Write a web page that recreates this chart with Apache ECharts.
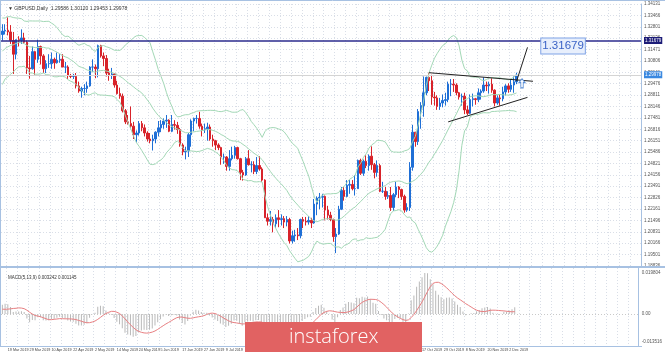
<!DOCTYPE html>
<html><head><meta charset="utf-8">
<script src="https://cdn.jsdelivr.net/npm/echarts@6/dist/echarts.min.js"></script>
<style>html,body{margin:0;padding:0;background:#fff}#c{width:665px;height:352px}</style>
</head><body><div id="c"></div><script>
// ---------- DATA (GBPUSD, Daily) ----------
const symbolName = 'GBPUSD,Daily';
const startDate = [2019, 2, 15];      // first visible bar: 15 Mar 2019
const futureBars = 45;                // empty space on the right
// closes before the first visible bar (indicator warm-up only)
const warmupClose = [1.2875,1.2955,1.3045,1.3065,1.3195,1.3170,1.3070,1.3125,1.3115,1.3075,1.3045,1.2945,1.2935,1.2940,1.2940,1.2885,1.2935,1.2850,1.2800,1.2900,1.2935,1.3055,1.3045,1.3040,1.3050,1.3085,1.3245,1.3290,1.3260,1.3200,1.3150,1.3160,1.3160,1.3100,1.3010,1.3155,1.3070,1.3245,1.3235];
// [open, high, low, close]
const ohlcMar = [[1.3235,1.3295,1.3200,1.3255],[1.3255,1.3295,1.3235,1.3260],[1.3260,1.3335,1.3230,1.3250],[1.3250,1.3290,1.3180,1.3200],[1.3200,1.3250,1.3005,1.3120],[1.3120,1.3205,1.3090,1.3205],[1.3205,1.3225,1.3165,1.3200],[1.3200,1.3265,1.3180,1.3215],[1.3215,1.3245,1.3180,1.3190],[1.3190,1.3200,1.3005,1.3040],[1.3040,1.3110,1.2977,1.3035]];
const ohlcApr = [[1.3035,1.3165,1.3030,1.3135],[1.3135,1.3140,1.3000,1.3090],[1.3090,1.3205,1.3070,1.3165],[1.3165,1.3170,1.3060,1.3110],[1.3110,1.3120,1.3010,1.3035],[1.3035,1.3085,1.3010,1.3065],[1.3065,1.3120,1.3040,1.3065],[1.3065,1.3130,1.3035,1.3090],[1.3090,1.3100,1.3035,1.3070],[1.3070,1.3130,1.3065,1.3085],[1.3085,1.3120,1.3070,1.3090],[1.3090,1.3120,1.3045,1.3045],[1.3045,1.3075,1.3010,1.3045],[1.3045,1.3055,1.2975,1.2995],[1.2995,1.3005,1.2980,1.2990],[1.2990,1.3005,1.2975,1.2990],[1.2990,1.3010,1.2920,1.2935],[1.2935,1.2960,1.2895,1.2905],[1.2905,1.2930,1.2866,1.2920],[1.2920,1.2945,1.2880,1.2920],[1.2920,1.2960,1.2895,1.2935],[1.2935,1.3050,1.2930,1.3045]];
const ohlcMay = [[1.3045,1.3090,1.3015,1.3045],[1.3045,1.3060,1.2980,1.3035],[1.3035,1.3176,1.2985,1.3170],[1.3170,1.3175,1.3100,1.3110],[1.3110,1.3130,1.3050,1.3095],[1.3095,1.3115,1.2990,1.3010],[1.3010,1.3035,1.2965,1.3000],[1.3000,1.3040,1.2975,1.3005],[1.3005,1.3010,1.2925,1.2940],[1.2940,1.2965,1.2885,1.2890],[1.2890,1.2925,1.2860,1.2875],[1.2875,1.2890,1.2780,1.2790],[1.2790,1.2800,1.2712,1.2725],[1.2725,1.2765,1.2710,1.2715],[1.2715,1.2815,1.2690,1.2700],[1.2700,1.2725,1.2625,1.2650],[1.2650,1.2675,1.2605,1.2660],[1.2660,1.2730,1.2645,1.2715],[1.2715,1.2730,1.2670,1.2690],[1.2690,1.2710,1.2640,1.2660],[1.2660,1.2670,1.2610,1.2625],[1.2625,1.2660,1.2600,1.2615],[1.2615,1.2650,1.2558,1.2625]];
const ohlcJun = [[1.2625,1.2670,1.2600,1.2665],[1.2665,1.2730,1.2640,1.2690],[1.2690,1.2735,1.2665,1.2710],[1.2710,1.2745,1.2685,1.2730],[1.2730,1.2765,1.2690,1.2735],[1.2735,1.2740,1.2665,1.2670],[1.2670,1.2765,1.2665,1.2710],[1.2710,1.2735,1.2680,1.2705],[1.2705,1.2725,1.2655,1.2680],[1.2680,1.2690,1.2580,1.2590],[1.2590,1.2600,1.2530,1.2550],[1.2550,1.2580,1.2506,1.2555],[1.2555,1.2660,1.2520,1.2650],[1.2650,1.2740,1.2580,1.2730],[1.2730,1.2750,1.2670,1.2745],[1.2745,1.2765,1.2715,1.2745],[1.2745,1.2784,1.2685,1.2700],[1.2700,1.2715,1.2640,1.2680],[1.2680,1.2715,1.2660,1.2685],[1.2685,1.2720,1.2615,1.2695]];
const ohlcJul = [[1.2695,1.2710,1.2615,1.2625],[1.2625,1.2650,1.2580,1.2615],[1.2615,1.2620,1.2560,1.2590],[1.2590,1.2600,1.2560,1.2575],[1.2575,1.2580,1.2475,1.2520],[1.2520,1.2540,1.2480,1.2520],[1.2520,1.2525,1.2440,1.2465],[1.2465,1.2560,1.2440,1.2510],[1.2510,1.2580,1.2500,1.2530],[1.2530,1.2585,1.2510,1.2575],[1.2575,1.2580,1.2505,1.2510],[1.2510,1.2515,1.2385,1.2430],[1.2430,1.2445,1.2382,1.2415],[1.2415,1.2520,1.2410,1.2510],[1.2510,1.2560,1.2470,1.2475],[1.2475,1.2495,1.2430,1.2475],[1.2475,1.2495,1.2420,1.2435],[1.2435,1.2520,1.2420,1.2470],[1.2470,1.2525,1.2440,1.2450],[1.2450,1.2460,1.2375,1.2385],[1.2385,1.2390,1.2165,1.2165],[1.2165,1.2190,1.2120,1.2145],[1.2145,1.2205,1.2120,1.2155]];
const ohlcAug = [[1.2155,1.2170,1.2080,1.2130],[1.2130,1.2185,1.2105,1.2165],[1.2165,1.2210,1.2110,1.2155],[1.2155,1.2185,1.2120,1.2160],[1.2160,1.2175,1.2105,1.2140],[1.2140,1.2175,1.2115,1.2155],[1.2155,1.2165,1.2015,1.2030],[1.2030,1.2090,1.2015,1.2060],[1.2060,1.2095,1.2025,1.2065],[1.2065,1.2105,1.2035,1.2060],[1.2060,1.2160,1.2045,1.2155],[1.2155,1.2170,1.2105,1.2145],[1.2145,1.2170,1.2120,1.2140],[1.2140,1.2175,1.2125,1.2150],[1.2150,1.2165,1.2105,1.2135],[1.2135,1.2275,1.2130,1.2245],[1.2245,1.2290,1.2180,1.2280],[1.2280,1.2310,1.2215,1.2285],[1.2285,1.2305,1.2225,1.2290],[1.2290,1.2295,1.2150,1.2210],[1.2210,1.2235,1.2155,1.2180],[1.2180,1.2200,1.2145,1.2155]];
const ohlcSep = [[1.2155,1.2160,1.2025,1.2055],[1.2055,1.2105,1.1959,1.2070],[1.2070,1.2235,1.2065,1.2215],[1.2215,1.2345,1.2210,1.2325],[1.2325,1.2345,1.2265,1.2290],[1.2290,1.2385,1.2285,1.2355],[1.2355,1.2385,1.2305,1.2360],[1.2360,1.2385,1.2325,1.2335],[1.2335,1.2415,1.2295,1.2335],[1.2335,1.2505,1.2335,1.2500],[1.2500,1.2510,1.2415,1.2425],[1.2425,1.2505,1.2410,1.2495],[1.2495,1.2530,1.2455,1.2470],[1.2470,1.2535,1.2440,1.2525],[1.2525,1.2582,1.2445,1.2475],[1.2475,1.2485,1.2395,1.2430],[1.2430,1.2500,1.2405,1.2470],[1.2470,1.2480,1.2315,1.2320],[1.2320,1.2375,1.2310,1.2320],[1.2320,1.2345,1.2270,1.2290],[1.2290,1.2320,1.2275,1.2295]];
const ohlcOct = [[1.2295,1.2345,1.2205,1.2225],[1.2225,1.2310,1.2205,1.2300],[1.2300,1.2375,1.2285,1.2345],[1.2345,1.2350,1.2280,1.2330],[1.2330,1.2335,1.2270,1.2290],[1.2290,1.2300,1.2195,1.2210],[1.2210,1.2250,1.2200,1.2225],[1.2225,1.2490,1.2205,1.2460],[1.2460,1.2708,1.2440,1.2665],[1.2665,1.2665,1.2580,1.2610],[1.2610,1.2800,1.2590,1.2785],[1.2785,1.2840,1.2685,1.2820],[1.2820,1.2990,1.2755,1.2895],[1.2895,1.2989,1.2880,1.2985],[1.2985,1.3012,1.2905,1.2965],[1.2965,1.3000,1.2825,1.2870],[1.2870,1.2900,1.2820,1.2865],[1.2865,1.2880,1.2795,1.2815],[1.2815,1.2865,1.2795,1.2835],[1.2835,1.2885,1.2810,1.2850],[1.2850,1.2895,1.2820,1.2855],[1.2855,1.2960,1.2840,1.2945],[1.2945,1.2975,1.2875,1.2945]];
const ohlcNov = [[1.2945,1.2975,1.2900,1.2940],[1.2940,1.2950,1.2880,1.2895],[1.2895,1.2900,1.2855,1.2870],[1.2870,1.2890,1.2820,1.2875],[1.2875,1.2895,1.2770,1.2795],[1.2795,1.2820,1.2765,1.2775],[1.2775,1.2885,1.2770,1.2855],[1.2855,1.2890,1.2815,1.2860],[1.2860,1.2865,1.2825,1.2855],[1.2855,1.2920,1.2840,1.2895],[1.2895,1.2915,1.2855,1.2905],[1.2905,1.2985,1.2895,1.2940],[1.2940,1.2960,1.2905,1.2935],[1.2935,1.2960,1.2890,1.2945],[1.2945,1.2980,1.2895,1.2910],[1.2910,1.2915,1.2815,1.2835],[1.2835,1.2880,1.2825,1.2865],[1.2865,1.2885,1.2820,1.2860],[1.2860,1.2930,1.2845,1.2900],[1.2900,1.2945,1.2880,1.2935],[1.2935,1.2950,1.2895,1.2915]];
const ohlcDec = [[1.2915,1.2975,1.2900,1.2940],[1.2940,1.2990,1.2895,1.29586],[1.29586,1.30120,1.29453,1.29978]];
// horizontal level and drawn trend lines: [bar index, price]
const levelPrice = 1.31679;
const upperTrend = [[156, 1.3012], [194, 1.2962]];
const lowerTrend = [[163, 1.2725], [192, 1.2868]];
const breakoutLine = [[188, 1.2962], [192, 1.3160]];
const arrowMark = [190, 1.2950];
const levelLabelAt = 205;
// price axis
const priceMin = 1.18836, priceMax = 1.34131, priceStep = 0.00665;
// indicator settings
const bbPeriod = 20, bbDev = 2;
const macdFast = 5, macdSlow = 13, macdSignal = 9;

// ---------- BUILD ----------
const candlesRaw = [].concat(ohlcMar, ohlcApr, ohlcMay, ohlcJun, ohlcJul, ohlcAug, ohlcSep, ohlcOct, ohlcNov, ohlcDec);
const n = candlesRaw.length;
const MON = ['Jan','Feb','Mar','Apr','May','Jun','Jul','Aug','Sep','Oct','Nov','Dec'];
const dates = [];
{
  const d = new Date(Date.UTC(startDate[0], startDate[1], startDate[2]));
  while (dates.length < n + futureBars) {
    const wd = d.getUTCDay();
    if (wd !== 0 && wd !== 6) dates.push(d.getUTCDate() + ' ' + MON[d.getUTCMonth()] + ' ' + d.getUTCFullYear());
    d.setUTCDate(d.getUTCDate() + 1);
  }
}
const closes = candlesRaw.map(r => r[3]);
const candleData = candlesRaw.map(r => [r[0], r[3], r[2], r[1]]);
const lastBar = candlesRaw[n - 1];
const lastPrice = lastBar[3];

// Bollinger Bands of the closes
const allClose = warmupClose.concat(closes);
const W = warmupClose.length;
const bbUp = [], bbMid = [], bbLow = [];
for (let i = 0; i < n; i++) {
  const j = W + i;
  const win = allClose.slice(j - bbPeriod + 1, j + 1);
  const m = win.reduce((a, b) => a + b, 0) / bbPeriod;
  const sd = Math.sqrt(win.reduce((a, b) => a + (b - m) * (b - m), 0) / bbPeriod);
  bbMid.push(m); bbUp.push(m + bbDev * sd); bbLow.push(m - bbDev * sd);
}
// MACD, MT4 style: main as histogram, SMA signal
function ema(arr, p) { const k = 2 / (p + 1); const out = [arr[0]]; for (let i = 1; i < arr.length; i++) out.push(arr[i] * k + out[i - 1] * (1 - k)); return out; }
const eF = ema(allClose, macdFast), eS = ema(allClose, macdSlow);
const macdAll = eF.map((v, i) => v - eS[i]);
const sigAll = macdAll.map((v, i) => i < macdSignal - 1 ? null : macdAll.slice(i - macdSignal + 1, i + 1).reduce((a, b) => a + b, 0) / macdSignal);
const macd = macdAll.slice(W), signal = sigAll.slice(W);
const macdMax = Math.max(...macd);
const R = macdMax / 0.526;
const mAxisMax = 0.59 * R, mAxisMin = -0.41 * R;
const mLabelLow = -0.359 * R;

const FONT = 'Liberation Sans';
const frame = '#a7c1e2';
const gridLine = { show: true, lineStyle: { color: '#d9dee7', width: 1, type: [1, 2] } };
const isLabel = i => i < n && i % 8 === 2;
const isSplit = i => i % 4 === 2;

const chart = echarts.init(document.getElementById('c'), null, { renderer: 'canvas' });
chart.setOption({
  animation: false,
  backgroundColor: '#ffffff',
  title: [
    { text: '\u25BC ' + symbolName + '  ' + lastBar[0].toFixed(5) + ' ' + lastBar[1].toFixed(5) + ' ' + lastBar[2].toFixed(5) + ' ' + lastBar[3].toFixed(5), left: 3, top: 1, textStyle: { fontSize: 5, fontWeight: 'normal', color: '#333', fontFamily: FONT } },
    { text: 'MACD(' + macdFast + ',' + macdSlow + ',' + macdSignal + ') ' + macd[n - 1].toFixed(6) + ' ' + signal[n - 1].toFixed(6), left: 3, top: 270, textStyle: { fontSize: 4.5, fontWeight: 'normal', color: '#333', fontFamily: FONT } }
  ],
  grid: [
    { left: 1, right: 24, top: 4, height: 262 },
    { left: 1, right: 24, top: 268, height: 78 }
  ],
  xAxis: [
    { type: 'category', gridIndex: 0, data: dates, boundaryGap: true, axisLine: { show: false }, axisTick: { show: false }, axisLabel: { show: false }, splitLine: Object.assign({ interval: isSplit }, gridLine) },
    { type: 'category', gridIndex: 1, data: dates, boundaryGap: true, axisLine: { show: false }, axisTick: { show: false },
      axisLabel: { show: true, interval: isLabel, fontSize: 3.7, color: '#444', fontFamily: FONT, align: 'left', margin: 2, hideOverlap: false, showMinLabel: true },
      splitLine: Object.assign({ interval: isSplit }, gridLine) }
  ],
  yAxis: [
    { type: 'value', gridIndex: 0, position: 'right', min: priceMin, max: priceMax, interval: priceStep, scale: true,
      axisLine: { show: true, lineStyle: { color: frame } }, axisTick: { show: false },
      axisLabel: { fontSize: 4.5, color: '#555', fontFamily: FONT, margin: 3, formatter: v => v.toFixed(5) },
      splitLine: gridLine },
    { type: 'value', gridIndex: 1, position: 'right', min: mAxisMin, max: mAxisMax,
      axisLine: { show: true, lineStyle: { color: frame } }, axisTick: { show: false },
      axisLabel: { fontSize: 4.5, color: '#555', fontFamily: FONT, margin: 3, customValues: [mLabelLow, 0, macdMax], formatter: v => (Math.abs(v) < 1e-9 ? '0.00' : v.toFixed(6)) },
      splitLine: { show: false } }
  ],
  series: [
    { type: 'candlestick', xAxisIndex: 0, yAxisIndex: 0, data: candleData, barWidth: 2,
      itemStyle: { color: '#1f6fd6', color0: '#d8232a', borderColor: '#1f6fd6', borderColor0: '#d8232a', borderWidth: 1 },
      markLine: { silent: true, symbol: ['none', 'none'], label: { show: false },
        data: [
          { yAxis: levelPrice, lineStyle: { color: '#2b2b8e', width: 1.5, type: 'solid' },
            label: { show: true, position: 'end', distance: 3, formatter: levelPrice.toFixed(5), color: '#fff', backgroundColor: '#1d1d78', fontSize: 4.5, padding: [1, 1], fontFamily: FONT } },
          { yAxis: lastPrice, lineStyle: { color: '#d4d4d4', width: 1, type: 'solid' },
            label: { show: true, position: 'end', distance: 3, formatter: lastPrice.toFixed(5), color: '#fff', backgroundColor: '#3a88e0', fontSize: 4.5, padding: [1, 1], fontFamily: FONT } },
          [{ coord: upperTrend[0], lineStyle: { color: '#222', width: 1, type: 'solid' } }, { coord: upperTrend[1] }],
          [{ coord: lowerTrend[0], lineStyle: { color: '#222', width: 1, type: 'solid' } }, { coord: lowerTrend[1] }],
          [{ coord: breakoutLine[0], lineStyle: { color: '#222', width: 1, type: 'solid' } }, { coord: breakoutLine[1] }]
        ] },
      markPoint: { silent: true,
        data: [
          { coord: [levelLabelAt, levelPrice], symbol: 'rect', symbolSize: 0,
            label: { show: true, position: 'inside', formatter: levelPrice.toFixed(5), fontSize: 11.5, color: '#3b63c6', fontFamily: FONT, backgroundColor: '#e8effc', borderColor: '#7fa2e6', borderWidth: 1, padding: [2, 1, 1, 1] } },
          { coord: arrowMark, symbol: 'path://M5,0 L10,5 L7,5 L7,12 L3,12 L3,5 L0,5 Z', symbolSize: [6, 9],
            itemStyle: { color: '#ffffff', borderColor: '#5a8ed6', borderWidth: 1 }, label: { show: false } }
        ] } },
    { type: 'line', xAxisIndex: 0, yAxisIndex: 0, data: bbUp, symbol: 'none', lineStyle: { color: '#a3d8b6', width: 1 } },
    { type: 'line', xAxisIndex: 0, yAxisIndex: 0, data: bbMid, symbol: 'none', lineStyle: { color: '#a3d8b6', width: 1 } },
    { type: 'line', xAxisIndex: 0, yAxisIndex: 0, data: bbLow, symbol: 'none', lineStyle: { color: '#a3d8b6', width: 1 } },
    { type: 'bar', xAxisIndex: 1, yAxisIndex: 1, data: macd, barWidth: 1, itemStyle: { color: '#b9b9b9' },
      markLine: { silent: true, symbol: ['none', 'none'], label: { show: false }, data: [{ yAxis: 0 }], lineStyle: { color: '#c9c9c9', width: 1, type: [1, 2] } } },
    { type: 'line', xAxisIndex: 1, yAxisIndex: 1, data: signal, symbol: 'none', lineStyle: { color: '#e87f82', width: 1 } }
  ],
  graphic: [
    { type: 'line', z: 50, shape: { x1: 0.5, y1: 0, x2: 0.5, y2: 347 }, style: { stroke: frame, lineWidth: 1 } },
    { type: 'line', z: 50, shape: { x1: 0, y1: 0.5, x2: 665, y2: 0.5 }, style: { stroke: frame, lineWidth: 1 } },
    { type: 'line', z: 50, shape: { x1: 0, y1: 267, x2: 665, y2: 267 }, style: { stroke: frame, lineWidth: 2 } },
    { type: 'line', z: 50, shape: { x1: 0, y1: 346.5, x2: 642, y2: 346.5 }, style: { stroke: frame, lineWidth: 1 } },
    { type: 'rect', z: 100, shape: { x: 245, y: 322, width: 177, height: 30 }, style: { fill: '#e16262' } },
    { type: 'text', z: 101, x: 289, y: 337, style: { text: 'instaforex', fill: '#ffffff', font: '300 20px "Open Sans", "Liberation Sans", sans-serif', verticalAlign: 'middle', align: 'left' } }
  ]
});
</script></body></html>
